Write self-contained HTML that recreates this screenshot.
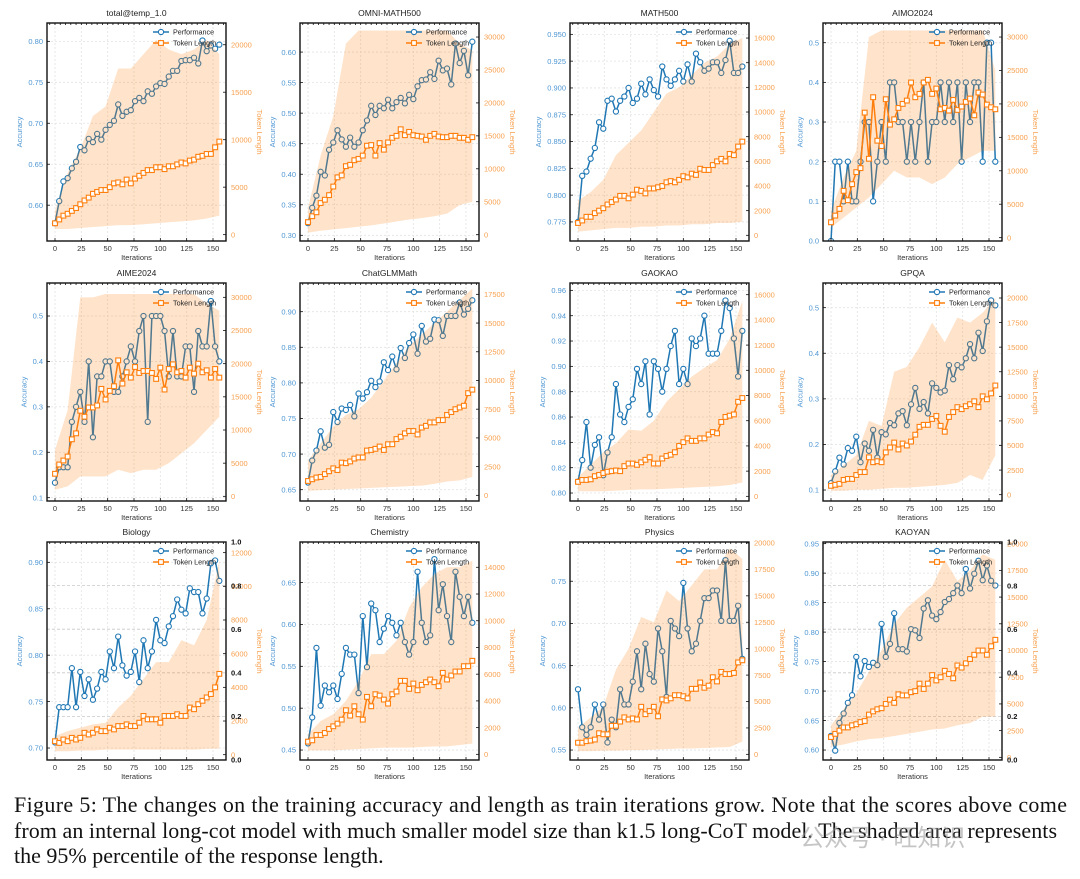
<!DOCTYPE html>
<html><head><meta charset="utf-8">
<style>
html,body{margin:0;padding:0;background:#fff;}
body{width:1080px;height:879px;overflow:hidden;position:relative;font-family:"Liberation Sans",sans-serif;}
#wm{position:absolute;left:800px;top:818px;font-family:"Liberation Sans","Noto Sans CJK SC",sans-serif;font-size:24px;color:rgba(150,150,150,0.55);}
</style></head>
<body>
<svg id="fig" width="1080" height="790" style="position:absolute;left:0;top:0" xmlns="http://www.w3.org/2000/svg"></svg>
<svg width="1080" height="89" style="position:absolute;left:0;top:790px" xmlns="http://www.w3.org/2000/svg">
<g font-family="Liberation Serif, serif" font-size="22" fill="#111">
<text x="14" y="22" textLength="1053" lengthAdjust="spacing">Figure 5: The changes on the training accuracy and length as train iterations grow. Note that the scores above come</text>
<text x="14" y="48" textLength="1043" lengthAdjust="spacing">from an internal long-cot model with much smaller model size than k1.5 long-CoT model. The shaded area represents</text>
<text x="14" y="73">the 95% percentile of the response length.</text>
</g></svg>
<div id="wm">公众号 · 旺知识</div>
<script>
const iters = [0,4,8,12,16,20,24,28,32,36,40,44,48,52,56,60,64,68,72,76,80,84,88,92,96,100,104,108,112,116,120,124,128,132,136,140,144,148,152,156];
const bandIters = [0,12,24,36,48,60,72,84,96,108,120,132,144,156];
const xTicks = [0,25,50,75,100,125,150];

const acc1 = [.578,.605,.629,.633,.645,.653,.671,.667,.681,.677,.687,.680,.692,.698,.703,.723,.709,.714,.716,.727,.731,.727,.739,.736,.745,.749,.748,.757,.764,.764,.776,.777,.777,.780,.773,.801,.788,.795,.791,.796];
const tok1 = [1.2,1.6,2.0,2.2,2.5,2.8,3.2,3.6,3.9,4.3,4.5,4.7,4.7,5.0,5.4,5.5,5.3,5.8,5.4,5.9,6.2,6.5,6.8,6.8,7.1,7.1,6.9,7.2,7.2,7.4,7.6,7.5,7.8,7.9,8.2,8.3,8.5,8.5,9.2,9.8];
const up1 = [2500,6500,9000,12500,13500,17500,17500,19000,20500,19500,19000,19500,20500,19000];
const lo1 = [600,600,700,800,900,1000,1000,1100,1200,1300,1400,1500,1700,2000];
const acc2 = [.32,.345,.365,.404,.398,.440,.452,.472,.457,.445,.460,.445,.452,.472,.488,.512,.497,.512,.508,.522,.508,.518,.525,.516,.530,.523,.544,.554,.555,.567,.556,.586,.570,.573,.547,.614,.582,.602,.562,.617];
const tok2 = [1.9,2.8,3.4,4.8,5.3,6.0,7.3,8.7,9.0,10.4,10.6,11.3,11.5,12.0,13.5,13.6,12.0,13.9,12.9,14.0,14.7,15.0,16.0,15.1,15.6,15.1,15.0,14.9,14.4,15.0,15.3,14.9,14.8,14.8,15.0,15.0,14.7,14.7,14.4,14.8];
const up2 = [4000,12000,18000,29000,31000,31000,31000,31000,31000,31000,31000,31000,29000,28000];
const lo2 = [300,600,800,1000,1200,1400,1700,2000,2300,2500,2800,3200,4500,5000];
const acc3 = [.775,.818,.822,.834,.844,.868,.862,.888,.890,.878,.888,.892,.900,.886,.890,.904,.894,.908,.898,.892,.920,.908,.902,.908,.916,.906,.922,.906,.932,.924,.916,.918,.924,.924,.914,.926,.944,.914,.914,.920];
const tok3 = [1.0,1.2,1.5,1.5,1.8,2.0,2.2,2.5,2.7,2.9,3.2,3.2,3.0,3.3,3.7,3.6,3.4,3.8,3.8,3.9,4.0,4.3,4.4,4.3,4.5,4.8,4.7,5.0,4.9,5.4,5.3,5.3,5.7,6.0,6.2,6.0,6.6,6.5,7.2,7.6];
const up3 = [2800,3500,4500,6500,7500,8500,10000,11500,12000,13000,14000,14500,15500,16000];
const lo3 = [300,400,500,600,600,700,700,800,800,900,900,1000,1000,1100];
const acc4 = [0,.2,.2,.1,.2,.1,.1,.2,.3,.3,.1,.2,.3,.2,.4,.4,.3,.3,.2,.3,.2,.3,.4,.2,.3,.3,.4,.3,.4,.3,.4,.2,.4,.3,.4,.4,.2,.5,.5,.2];
const tok4 = [2.3,3.3,4.3,7.0,5.6,8.0,9.8,10.4,18.7,11.8,21.0,14.5,13.7,20.7,16.9,17.7,19.4,20.0,20.5,23.2,21.0,21.5,23.2,23.6,21.5,22.3,19.2,19.4,19.0,20.6,19.1,19.6,20.3,20.8,18.3,21.7,21.4,19.9,19.5,19.2];
const up4 = [4000,9000,13000,30000,31000,31000,31000,31000,31000,31000,31000,31000,31000,25000];
const lo4 = [1500,3000,4500,6000,8000,10000,9000,9000,8000,9000,11000,12000,13000,13000];
const acc5 = [.133,.167,.167,.167,.267,.3,.333,.267,.4,.233,.367,.367,.4,.4,.333,.333,.367,.4,.433,.4,.467,.5,.267,.5,.5,.5,.467,.367,.467,.367,.367,.433,.433,.333,.467,.433,.433,.533,.433,.4];
const tok5 = [3.4,4.8,5.4,6.0,8.6,9.5,12.9,12.0,13.4,13.4,13.7,16.2,14.6,15.9,16.6,20.5,17.0,18.7,17.9,19.5,18.6,18.9,18.9,18.6,17.7,19.4,16.1,19.2,19.9,18.7,18.9,17.9,19.4,18.5,20.0,18.7,19.0,17.9,19.2,17.9];
const up5 = [7000,13000,30000,30000,30500,30500,30500,30500,30500,30500,30500,30500,29000,28000];
const lo5 = [1000,1500,3000,3000,3000,4000,3500,4000,4000,5000,6500,8000,10000,12000];
const acc6 = [.660,.691,.705,.732,.709,.713,.759,.745,.764,.762,.769,.753,.785,.778,.787,.803,.794,.802,.829,.818,.837,.819,.849,.835,.856,.868,.841,.880,.858,.862,.889,.888,.866,.894,.894,.894,.913,.896,.904,.916];
const tok6 = [1.25,1.4,1.55,1.6,1.85,2.1,2.35,2.2,2.85,2.8,2.95,3.2,3.3,3.3,3.9,3.95,4.05,4.25,3.95,4.45,4.45,4.9,5.1,5.4,5.6,5.6,5.3,5.9,6.05,6.35,6.35,6.55,6.55,7.0,7.25,7.5,7.65,7.8,8.9,9.2];
const up6 = [3000,4500,6000,7000,7500,8500,10000,11500,13000,14000,15000,16000,17000,18000];
const lo6 = [400,450,500,550,600,650,700,750,800,850,1000,1200,1300,1600];
const acc7 = [.809,.826,.856,.820,.838,.844,.814,.832,.844,.886,.862,.856,.868,.874,.898,.886,.904,.862,.904,.898,.880,.898,.916,.928,.886,.898,.886,.922,.916,.922,.940,.910,.910,.910,.928,.952,.946,.922,.892,.928];
const tok7 = [1.15,1.3,1.3,1.35,1.6,1.7,1.85,1.95,2.0,2.05,2.0,2.4,2.6,2.6,2.5,2.7,2.9,3.1,2.6,2.6,3.0,3.2,3.3,3.5,4.0,4.3,4.6,4.4,4.4,4.6,4.6,4.9,5.1,5.0,5.9,6.3,6.4,6.5,7.5,7.8];
const up7 = [1500,2500,3500,4200,5300,5200,6000,7500,8500,9500,10200,10800,12500,15500];
const lo7 = [400,400,400,450,500,550,550,600,650,700,750,800,900,1100];
const acc8 = [.115,.141,.171,.156,.192,.186,.217,.161,.202,.186,.232,.171,.227,.222,.247,.242,.268,.273,.242,.288,.324,.278,.293,.268,.334,.324,.314,.318,.374,.343,.374,.369,.389,.420,.389,.445,.405,.470,.516,.505];
const tok8 = [0.9,1.0,1.1,1.5,1.6,1.6,2.0,2.3,2.3,3.8,3.3,3.4,3.3,4.3,4.8,5.3,4.6,5.2,5.0,5.4,6.1,6.9,7.1,7.1,7.7,8.0,7.0,6.4,7.9,8.4,8.9,8.7,9.0,9.2,9.5,8.9,10.0,9.7,10.3,11.1];
const up8 = [2000,3000,4000,7500,7000,12500,13000,15000,17500,15500,18000,17500,18500,20000];
const lo8 = [400,400,500,500,600,700,700,800,900,1000,1200,2000,1500,4000];
const acc9 = [.706,.744,.744,.744,.786,.744,.782,.756,.774,.752,.764,.782,.774,.804,.786,.820,.789,.778,.782,.804,.771,.816,.786,.804,.838,.816,.813,.831,.842,.860,.849,.845,.872,.868,.868,.845,.861,.899,.902,.880];
const tok9 = [0.8,0.7,0.9,0.8,1.0,0.9,1.0,1.3,1.2,1.3,1.5,1.4,1.4,1.6,1.5,1.7,1.7,1.8,1.7,1.7,1.9,2.3,2.1,2.1,2.1,1.9,2.3,2.3,2.3,2.4,2.3,2.3,2.8,2.7,3.0,3.2,3.4,3.6,4.0,4.8];
const up9 = [1100,1400,1600,1800,1900,2800,3500,4500,5500,5500,6800,6500,8000,11500];
const lo9 = [200,200,250,250,300,300,300,300,300,300,300,300,350,350];
const acc10 = [.458,.489,.572,.503,.527,.519,.527,.511,.541,.572,.564,.564,.518,.610,.549,.625,.617,.579,.595,.610,.602,.587,.602,.579,.564,.579,.663,.602,.579,.587,.678,.617,.648,.610,.579,.663,.633,.610,.633,.602];
const tok10 = [0.95,1.05,1.45,1.45,1.6,1.9,2.1,2.3,2.6,3.3,2.9,3.6,3.0,2.6,4.3,3.6,4.5,4.4,4.1,3.8,4.5,4.7,5.5,5.5,4.9,5.3,4.8,5.2,5.4,5.6,5.4,5.1,6.1,5.6,5.9,6.2,6.2,6.6,6.6,7.0];
const up10 = [1500,2500,3000,4000,5500,7500,7500,8500,11000,12500,13500,14000,14000,14500];
const lo10 = [300,300,300,350,400,450,500,500,500,550,600,600,700,800];
const acc11 = [.622,.577,.568,.577,.604,.586,.604,.559,.586,.577,.622,.604,.604,.631,.667,.622,.676,.640,.631,.694,.667,.613,.703,.694,.685,.748,.694,.667,.676,.703,.730,.730,.739,.739,.703,.775,.703,.703,.721,.658];
const tok11 = [1.1,1.1,1.25,1.3,1.4,2.0,1.9,1.9,2.7,2.7,3.1,3.5,3.3,3.4,3.3,4.5,3.8,4.1,4.5,3.6,5.2,5.1,5.3,5.6,5.6,5.5,5.3,6.2,6.2,6.8,6.3,6.5,7.3,6.9,7.8,7.6,7.6,7.7,8.7,8.9];
const up11 = [2500,3500,4500,8000,10000,13000,12500,15500,14500,16000,17500,17500,19500,18500];
const lo11 = [300,300,350,350,400,400,450,500,550,550,600,650,700,1200];
const acc12 = [.624,.599,.646,.662,.680,.693,.758,.725,.751,.741,.748,.744,.814,.758,.780,.832,.771,.771,.767,.805,.803,.790,.840,.854,.828,.822,.834,.851,.856,.866,.879,.866,.907,.874,.899,.921,.888,.913,.887,.879];
const tok12 = [1.9,2.2,2.5,2.8,2.8,3.0,3.1,3.3,3.4,4.0,4.3,4.5,4.6,5.0,5.4,5.1,5.9,5.8,5.8,6.1,6.2,6.9,6.4,6.9,7.7,7.2,7.5,8.1,7.8,7.4,8.6,8.4,8.8,9.2,9.6,10.0,10.0,9.6,10.4,11.0];
const up12 = [3000,4500,6000,8000,10000,12500,14000,15000,16000,18500,16500,17500,19000,18500];
const lo12 = [1000,1200,1500,1700,1800,2000,2200,2400,2600,2700,3000,3200,3800,3800];

const accTicks = [[.60,.65,.70,.75,.80],[.30,.35,.40,.45,.50,.55,.60],[.775,.800,.825,.850,.875,.900,.925,.950],[0,.1,.2,.3,.4,.5],
 [.1,.2,.3,.4,.5],[.65,.70,.75,.80,.85,.90],[.80,.82,.84,.86,.88,.90,.92,.94,.96],[.1,.2,.3,.4,.5],
 [.70,.75,.80,.85,.90],[.45,.50,.55,.60,.65],[.55,.60,.65,.70,.75],[.60,.65,.70,.75,.80,.85,.90,.95]];
const accDec = [2,2,3,1,1,2,2,1,2,2,2,2];
const tokTicks = [[0,5000,10000,15000,20000],[0,5000,10000,15000,20000,25000,30000],[0,2000,4000,6000,8000,10000,12000,14000,16000],[0,5000,10000,15000,20000,25000,30000],
 [0,5000,10000,15000,20000,25000,30000],[0,2500,5000,7500,10000,12500,15000,17500],[0,2000,4000,6000,8000,10000,12000,14000,16000],[0,2500,5000,7500,10000,12500,15000,17500,20000],
 [0,2000,4000,6000,8000,10000,12000],[0,2000,4000,6000,8000,10000,12000,14000],[0,2500,5000,7500,10000,12500,15000,17500,20000],[0,2500,5000,7500,10000,12500,15000,17500,20000]];
const extraTicks = [0,0.2,0.4,0.6,0.8,1.0];

const titles = ["total@temp_1.0","OMNI-MATH500","MATH500","AIMO2024","AIME2024","ChatGLMMath","GAOKAO","GPQA","Biology","Chemistry","Physics","KAOYAN"];
const accs=[acc1,acc2,acc3,acc4,acc5,acc6,acc7,acc8,acc9,acc10,acc11,acc12];
const toks=[tok1,tok2,tok3,tok4,tok5,tok6,tok7,tok8,tok9,tok10,tok11,tok12];
const ups=[up1,up2,up3,up4,up5,up6,up7,up8,up9,up10,up11,up12];
const los=[lo1,lo2,lo3,lo4,lo5,lo6,lo7,lo8,lo9,lo10,lo11,lo12];
const ranges=[[.5563,.8224,-669,22289],[.2907,.6476,-964,32132],[.7572,.9606,-461,17220],[0,.5497,-500,32100],
 [.0927,.5727,-703,32161],[.6341,.9403,-493,18487],[.7937,.9658,-370,16926],[.0759,.5541,-644,21525],
 [.6871,.9219,-316,12632],[.4381,.6985,-423,15893],[.5382,.7965,-535,20094],[.5831,.9528,-249,20156]];
const extraAxis=[false,false,false,false,false,false,false,false,true,false,false,true];

const colLeft=[47,300,570,823], rowTop=[23,283,542], BW=179, BH=218;
const NS="http://www.w3.org/2000/svg";
const svg=document.getElementById('fig');
function mk(tag,attrs,parent){const e=document.createElementNS(NS,tag);for(const k in attrs)e.setAttribute(k,attrs[k]);(parent||svg).appendChild(e);return e;}
const BLUE="#1f77b4",ORANGE="#ff7f0e",BT="#4f97d3",OT="#f7a04e";

for(let p=0;p<12;p++){
  const L=colLeft[p%4],T=rowTop[Math.floor(p/4)],R=L+BW,B=T+BH;
  const rg=ranges[p];
  const aMin=rg[0],aMax=rg[1],tMin=rg[2],tMax=rg[3];
  const xs=v=>L+8+v*158/150;
  const ya=v=>B-(v-aMin)/(aMax-aMin)*BH;
  const yt=v=>B-(v-tMin)/(tMax-tMin)*BH;
  const g=mk('g',{});
  
  
  const clipId='c'+p;
  const cp=mk('clipPath',{id:clipId},g); mk('rect',{x:L,y:T,width:BW,height:BH},cp);
  xTicks.forEach(v=>{const l=mk('line',{x1:xs(v),x2:xs(v),y1:T,y2:B,stroke:"#e2e2e2","stroke-width":0.8,"stroke-dasharray":"2,2"},g);});
  accTicks[p].forEach(v=>{const l=mk('line',{x1:L,x2:R,y1:ya(v),y2:ya(v),stroke:"#e2e2e2","stroke-width":0.8,"stroke-dasharray":"2,2"},g);});
  if(extraAxis[p]) extraTicks.forEach(v=>{const y=B-v*BH;const l=mk('line',{x1:L,x2:R,y1:y,y2:y,stroke:"#c8c8c8","stroke-width":0.8,"stroke-dasharray":"3,2"},g);});
  const cg=mk('g',{'clip-path':'url(#'+clipId+')'},g);
  const acc=accs[p];
  const pl=mk('polyline',{points:acc.map((v,i)=>xs(iters[i])+','+ya(v)).join(' '),fill:'none',stroke:BLUE,'stroke-width':1.5},cg);
  
  acc.forEach((v,i)=>{const c=mk('circle',{cx:xs(iters[i]),cy:ya(v),r:2.6,fill:'#fff',stroke:BLUE,'stroke-width':1.1},cg);});
  const up=ups[p],lo=los[p];
  const pts=up.map((v,i)=>xs(bandIters[i])+','+yt(v)).concat(lo.map((v,i)=>xs(bandIters[i])+','+yt(v)).reverse());
  const band=mk('polygon',{points:pts.join(' '),fill:ORANGE,'fill-opacity':0.22},cg);
  
  const tk=toks[p];
  const tl=mk('polyline',{points:tk.map((v,i)=>xs(iters[i])+','+yt(v*1000)).join(' '),fill:'none',stroke:ORANGE,'stroke-width':1.5},cg);
  
  tk.forEach((v,i)=>{const s=mk('rect',{x:xs(iters[i])-2.4,y:yt(v*1000)-2.4,width:4.8,height:4.8,fill:'#fff',stroke:ORANGE,'stroke-width':1.1},cg);});
  const fr=mk('rect',{x:L,y:T,width:BW,height:BH,fill:'none',stroke:'#111','stroke-width':1.4},g);
  
  for(let v=-5;v<=160;v+=5){const x=xs(v);if(x>L+1&&x<R-1)mk('line',{x1:x,x2:x,y1:T,y2:T+2,stroke:'#111','stroke-width':0.8},g);}
  xTicks.forEach(v=>{mk('line',{x1:xs(v),x2:xs(v),y1:B,y2:B-3,stroke:'#111','stroke-width':0.8},g);
    const t=mk('text',{x:xs(v),y:B+10,'font-size':7.5,'text-anchor':'middle',fill:'#333'},g);t.textContent=v;});
  const xl=mk('text',{x:L+BW/2,y:B+19,'font-size':7.5,'text-anchor':'middle',fill:'#333'},g);xl.textContent='Iterations';
  let maxW=0;
  accTicks[p].forEach(v=>{mk('line',{x1:L,x2:L+3,y1:ya(v),y2:ya(v),stroke:'#111','stroke-width':0.8},g);
    const s=v.toFixed(accDec[p]);maxW=Math.max(maxW,s.length);
    const t=mk('text',{x:L-4,y:ya(v)+2.7,'font-size':7.5,'text-anchor':'end',fill:BT},g);t.textContent=s;});
  const alx=L-8-maxW*4.2;
  const al=mk('text',{x:alx,y:T+BH/2,'font-size':7.5,'text-anchor':'middle',fill:BT,transform:`rotate(-90 ${alx} ${T+BH/2})`},g);al.textContent='Accuracy';
  let maxR=0;
  tokTicks[p].forEach(v=>{mk('line',{x1:R,x2:R-3,y1:yt(v),y2:yt(v),stroke:'#111','stroke-width':0.8},g);
    maxR=Math.max(maxR,String(v).length);
    const t=mk('text',{x:R+5,y:yt(v)+2.7,'font-size':7.5,fill:OT},g);t.textContent=v;});
  if(extraAxis[p]) extraTicks.forEach(v=>{const t=mk('text',{x:R+5,y:B-v*BH+2.7,'font-size':7.5,fill:'#111','font-weight':'bold'},g);t.textContent=v.toFixed(1);});
  const rlx=R+10+maxR*4.2;
  const rl=mk('text',{x:rlx,y:T+BH/2,'font-size':7.5,'text-anchor':'middle',fill:OT,transform:`rotate(90 ${rlx} ${T+BH/2})`},g);rl.textContent='Token Length';
  const tt=mk('text',{x:L+BW/2,y:T-7,'font-size':8.5,'text-anchor':'middle',fill:'#222'},g);tt.textContent=titles[p];
  const lx=L+106,ly1=T+9,ly2=T+20;
  const lg=mk('g',{},g);
  mk('line',{x1:lx,x2:lx+16,y1:ly1,y2:ly1,stroke:BLUE,'stroke-width':1.5},lg);
  mk('circle',{cx:lx+8,cy:ly1,r:2.6,fill:'#fff',stroke:BLUE,'stroke-width':1.1},lg);
  const lt1=mk('text',{x:lx+20,y:ly1+2.6,'font-size':7.2,fill:'#222'},lg);lt1.textContent='Performance';
  mk('line',{x1:lx,x2:lx+16,y1:ly2,y2:ly2,stroke:ORANGE,'stroke-width':1.5},lg);
  mk('rect',{x:lx+5.6,y:ly2-2.4,width:4.8,height:4.8,fill:'#fff',stroke:ORANGE,'stroke-width':1.1},lg);
  const lt2=mk('text',{x:lx+20,y:ly2+2.6,'font-size':7.2,fill:'#222'},lg);lt2.textContent='Token Length';
}
</script>
</body></html>
